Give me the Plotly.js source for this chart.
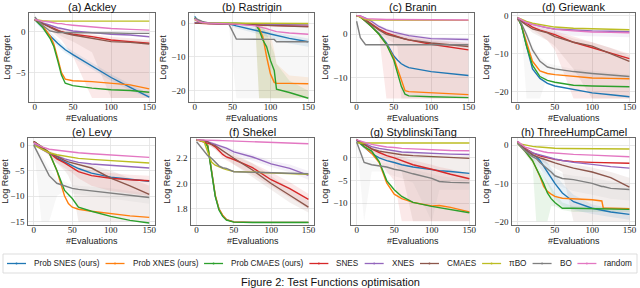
<!DOCTYPE html>
<html><head><meta charset="utf-8">
<script src="https://cdn.plot.ly/plotly-3.0.1.min.js"></script>
<style>html,body{margin:0;padding:0;background:#fff}#chart{width:640px;height:288px}</style>
</head><body><div id="chart"></div>
<script>
// ---------- names, colours, ticks ----------
const SERIES_NAMES = ['Prob SNES (ours)','Prob XNES (ours)','Prob CMAES (ours)','SNES','XNES','CMAES','\u03C0BO','BO','random'];
const SERIES_COLORS = ['#1f77b4','#ff7f0e','#2ca02c','#d62728','#9467bd','#8c564b','#bcbd22','#7f7f7f','#e377c2'];
const PANEL_TITLES = ['(a) Ackley','(b) Rastrigin','(c) Branin','(d) Griewank','(e) Levy','(f) Shekel','(g) StyblinskiTang','(h) ThreeHumpCamel'];
const X_TICKS = [0,50,100,150];
const Y_TICKS = [[0,-5],[0,-10,-20],[0,-10],[0,-10,-20],[0,-5,-10,-15],[1.8,2.0,2.2],[0,-5,-10],[0,-10,-20]];
const X_TITLE = '#Evaluations';
const Y_TITLE = 'Log Regret';
const CAPTION = 'Figure 2: Test Functions optimisation';

// ---------- (a) Ackley ----------
const ACKLEY_X = [0,10,20,25,30,35,40,50,75,100,125,150];
const ACKLEY_Y = [
  [1.5,0.6,-0.5,-1.0,-1.4,-1.8,-2.2,-2.8,-4.2,-5.6,-6.8,-8.0],
  [1.5,0.8,-0.5,-1.5,-3.2,-5.0,-5.8,-6.0,-6.1,-6.3,-6.5,-7.0],
  [1.5,0.6,-0.8,-1.8,-3.5,-5.3,-6.3,-6.6,-6.9,-7.1,-7.2,-7.4],
  [1.5,1.0,0.6,0.4,0.2,0.0,-0.1,-0.3,-0.6,-1.0,-1.2,-1.4],
  [1.5,1.1,0.8,0.6,0.5,0.4,0.3,0.1,-0.1,-0.3,-0.4,-0.6],
  [1.5,1.0,0.5,0.3,0.1,0.0,-0.2,-0.4,-0.8,-1.2,-1.3,-1.5],
  [1.5,1.35,1.3,1.3,1.3,1.3,1.3,1.3,1.3,1.3,1.3,1.3],
  [1.8,0.8,0.1,0.0,-0.1,-0.1,-0.1,-0.1,-0.1,-0.15,-0.2,-0.2],
  [1.5,1.3,1.2,1.1,1.0,1.0,0.9,0.8,0.6,0.4,0.3,0.2]
];
const ACKLEY_BANDS = [
  [3,[1.5,0.8,0.2,-0.2,-0.6,-1.0,-1.6,-3.0,-8.1,-8.1,-8.1,-8.1],[1.6,1.2,0.9,0.7,0.5,0.3,0.2,0.0,-0.3,-0.6,-0.8,-1.0]],
  [5,[1.5,0.8,0.2,-0.1,-0.3,-0.5,-0.8,-1.2,-2.5,-8.1,-8.1,-8.1],[1.6,1.2,0.8,0.6,0.4,0.3,0.1,-0.1,-0.5,-0.9,-1.0,-1.1]],
  [0,[1.3,0.3,-0.8,-1.3,-1.8,-2.2,-2.6,-3.2,-4.6,-6.0,-7.2,-8.1],[1.7,0.9,0.0,-0.5,-1.0,-1.4,-1.8,-2.4,-3.8,-5.2,-6.4,-7.6]]
];

// ---------- (b) Rastrigin ----------
const RASTRIGIN_X = [0,5,10,20,45,55,80,85,90,95,100,105,108,125,150];
const RASTRIGIN_Y = [
  [2.0,0.5,0,0,-0.2,-0.8,-2.0,-2.3,-2.6,-2.9,-3.2,-3.5,-3.7,-4.5,-5.5],
  [1.5,0.3,0,0,0,0,-0.2,-1.5,-4,-10,-15,-17.5,-17.8,-17.8,-17.9],
  [1.5,0.3,0,0,0,0,-0.3,-2,-5,-7,-11,-14,-19.5,-20.5,-22.2],
  [0,0,-0.1,-0.2,-0.3,-0.3,-0.5,-0.5,-0.6,-0.6,-0.7,-0.7,-0.7,-0.8,-0.9],
  [0.2,0,0,-0.1,-0.1,-0.2,-0.3,-0.3,-0.3,-0.4,-0.4,-0.4,-0.4,-0.5,-0.5],
  [0,0,0,-0.1,-0.2,-0.3,-0.5,-0.6,-0.6,-0.7,-0.8,-0.8,-0.9,-1.0,-1.1],
  [1.0,0.5,0.2,0,0,0,0,0,0,0,0,0,0,0,-0.1],
  [1.5,1.0,0.5,0,-0.2,-4.7,-4.7,-4.7,-4.7,-4.7,-4.7,-4.8,-5.5,-5.5,-5.5],
  [1.2,0.5,0.2,0,-0.2,-0.3,-0.8,-1.0,-1.3,-1.6,-2.0,-2.3,-2.5,-2.9,-3.3]
];
const RASTRIGIN_BANDS = [
  [7,[1.5,1.0,0.5,0,-0.5,-22.2,-22.2,-22.2,-22.2,-22.2,-22.2,-22.2,-22.2,-22.2,-22.2],[1.5,1.0,0.5,0,0,-0.2,-0.2,-0.2,-0.2,-0.2,-0.3,-0.3,-0.3,-0.3,-0.3]],
  [1,[1.5,0.3,0,0,0,0,-0.5,-22.2,-22.2,-22.2,-22.2,-22.2,-22.2,-22.2,-22.2],[1.5,0.3,0,0,0,0,0,0,0,-1,-3,-8,-12,-15.5,-16]],
  [2,[1.5,0.3,0,0,0,0,-1,-22.2,-22.2,-22.2,-22.2,-22.2,-22.2,-22.2,-22.2],[1.5,0.3,0,0,0,0,0,0,-1,-3,-6,-9,-12,-17,-20]],
  [0,[2,0.5,0,0,-0.5,-1.5,-3,-3.3,-3.6,-4,-4.3,-4.7,-5,-6,-7],[2,0.5,0,0,0,-0.3,-1.2,-1.5,-1.8,-2,-2.3,-2.6,-2.8,-3.5,-4.5]]
];

// ---------- (c) Branin ----------
const BRANIN_X = [0,5,12,20,30,40,50,55,60,65,70,100,150];
const BRANIN_Y = [
  [4.3,4.0,3.0,1.8,0.2,-2.0,-5.0,-6.0,-6.8,-7.3,-7.7,-8.6,-9.5],
  [4.3,4.0,3.0,1.8,0.0,-2.3,-5.5,-8.0,-11.0,-13.0,-13.2,-13.5,-13.9],
  [4.3,4.0,3.0,1.8,0.0,-2.3,-6.0,-9.0,-12.0,-13.8,-14.2,-14.4,-14.6],
  [4.3,4.1,3.3,2.4,1.2,0.3,-0.3,-0.6,-0.9,-1.1,-1.3,-2.3,-3.6],
  [4.3,4.2,3.7,3.0,1.8,1.0,0.5,0.3,0.1,-0.1,-0.3,-1.0,-1.2],
  [4.3,4.1,3.2,2.2,1.0,0.0,-0.5,-0.7,-0.9,-1.1,-1.3,-2.0,-2.8],
  [4.3,4.0,3.4,3.3,3.3,3.3,3.3,3.3,3.3,3.3,3.3,3.3,3.2],
  [3.0,-0.8,-2.4,-2.4,-2.4,-2.4,-2.4,-2.4,-2.4,-2.4,-2.4,-2.4,-2.4],
  [4.3,4.2,3.6,3.5,3.4,3.4,3.4,3.4,3.3,3.3,3.3,3.3,3.3]
];
const BRANIN_BANDS = [
  [3,[4.3,4.0,3.0,2.0,0.0,-14.8,-14.8,-14.8,-14.8,-14.8,-14.8,-14.8,-14.8],[4.4,4.2,3.6,2.8,1.8,1.0,0.5,0.2,0.0,-0.2,-0.4,-1.2,-2.0]],
  [5,[4.3,4.0,3.0,2.0,0.5,-1.0,-2.0,-3.0,-14.8,-14.8,-14.8,-14.8,-14.8],[4.4,4.2,3.5,2.6,1.5,0.6,0.0,-0.2,-0.4,-0.6,-0.8,-1.5,-2.0]],
  [4,[4.3,4.0,3.2,2.3,1.0,0.0,-0.6,-0.8,-1.0,-1.2,-1.4,-2.0,-2.2],[4.4,4.3,3.9,3.3,2.2,1.4,0.9,0.7,0.5,0.3,0.1,-0.6,-0.8]]
];

// ---------- (d) Griewank ----------
const GRIEWANK_X = [0,5,12,20,30,40,50,75,100,125,150];
const GRIEWANK_Y = [
  [-0.5,-2.5,-8.0,-14.0,-16.5,-17.8,-18.5,-19.5,-20.3,-20.8,-21.3],
  [-0.5,-2.5,-7.0,-12.0,-14.5,-15.2,-15.5,-16.0,-16.4,-16.5,-16.6],
  [-0.5,-2.5,-8.0,-13.0,-16.0,-17.0,-17.5,-18.3,-18.5,-18.6,-18.7],
  [-1.0,-1.3,-2.0,-3.0,-3.8,-4.3,-5.0,-7.0,-8.5,-10.0,-11.3],
  [-0.5,-1.0,-1.8,-2.3,-2.8,-3.2,-3.5,-3.8,-4.0,-4.1,-4.2],
  [-1.0,-1.5,-2.5,-3.5,-4.0,-4.5,-5.5,-7.0,-8.0,-10.0,-12.0],
  [-0.5,-1.0,-1.5,-2.0,-2.4,-2.7,-3.0,-3.3,-3.5,-3.6,-3.7],
  [-0.5,-2.0,-5.0,-9.0,-12.0,-13.5,-14.0,-14.7,-15.2,-15.6,-16.0],
  [-0.5,-1.0,-1.8,-2.3,-2.8,-3.2,-3.6,-4.0,-4.3,-4.4,-4.5]
];
const GRIEWANK_BANDS = [
  [3,[-1.0,-1.6,-2.5,-3.8,-5.0,-6.5,-9.0,-21.8,-21.8,-21.8,-21.8],[-0.8,-1.0,-1.6,-2.4,-3.0,-3.5,-4.0,-5.5,-7.0,-8.5,-10.0]],
  [5,[-1.0,-1.8,-3.0,-4.5,-5.5,-6.5,-8.0,-14.0,-21.8,-21.8,-21.8],[-0.8,-1.2,-2.0,-3.0,-3.5,-4.0,-4.5,-6.0,-7.0,-8.5,-10.5]],
  [7,[-0.5,-3.0,-21.8,-21.8,-21.8,-16.0,-15.5,-16.0,-16.5,-16.8,-17.0],[-0.5,-1.5,-4.0,-8.0,-11.0,-12.5,-13.0,-14.0,-14.5,-15.0,-15.5]],
  [4,[-0.5,-1.2,-2.2,-3.0,-3.6,-4.2,-4.8,-5.3,-5.5,-5.6,-5.7],[-0.5,-0.8,-1.5,-2.0,-2.4,-2.7,-3.0,-3.3,-3.5,-3.6,-3.7]]
];

// ---------- (e) Levy ----------
const LEVY_X = [0,10,20,30,40,45,50,58,75,100,125,150];
const LEVY_Y = [
  [0.7,-0.5,-1.5,-2.5,-3.3,-3.7,-4.0,-4.6,-5.5,-6.3,-6.7,-7.1],
  [0.7,-0.3,-1.5,-5.0,-10.0,-11.5,-12.2,-12.6,-13.0,-13.5,-13.9,-14.2],
  [0.7,-0.3,-1.5,-5.0,-8.9,-9.8,-10.5,-12.2,-13.0,-14.0,-14.8,-15.3],
  [0.7,-0.5,-1.5,-2.7,-3.5,-4.0,-4.5,-5.2,-6.0,-6.5,-6.8,-7.0],
  [0.3,-0.8,-1.6,-2.2,-2.7,-2.9,-3.1,-3.4,-3.7,-4.0,-4.3,-4.5],
  [0.7,-0.5,-1.5,-2.3,-3.0,-3.3,-3.5,-3.9,-4.5,-6.5,-8.0,-9.7],
  [0.0,-0.8,-1.5,-1.9,-2.2,-2.3,-2.5,-2.6,-2.8,-3.0,-3.3,-3.5],
  [0.0,-3.0,-6.0,-7.5,-8.0,-8.3,-8.5,-8.7,-9.0,-9.5,-10.0,-10.3],
  [0.5,-0.3,-0.8,-1.0,-1.2,-1.3,-1.4,-1.5,-1.7,-1.9,-2.1,-2.4]
];
const LEVY_BANDS = [
  [5,[0.7,-0.7,-2.0,-3.5,-5.0,-6.0,-8.0,-15.0,-15.0,-15.0,-15.0,-15.0],[0.8,-0.2,-1.0,-1.8,-2.5,-2.8,-3.0,-3.3,-3.8,-5.0,-6.5,-8.0]],
  [3,[0.7,-0.7,-2.0,-3.5,-4.5,-5.0,-5.5,-6.5,-8.0,-9.0,-9.5,-10.0],[0.8,-0.3,-1.2,-2.2,-3.0,-3.4,-3.8,-4.4,-5.0,-5.5,-5.8,-6.0]],
  [7,[0.0,-15.0,-15.0,-10.0,-9.0,-9.0,-9.5,-9.8,-10.0,-10.5,-11.0,-11.5],[0.0,-2.0,-4.5,-6.5,-7.2,-7.5,-7.8,-8.0,-8.2,-8.5,-9.0,-9.5]]
];

// ---------- (f) Shekel ----------
const SHEKEL_X = [0,10,15,20,25,30,35,40,50,75,100,125,150];
const SHEKEL_Y = [
  [2.345,2.335,2.30,2.10,1.90,1.80,1.745,1.715,1.697,1.693,1.693,1.693,1.693],
  [2.345,2.335,2.30,2.11,1.91,1.80,1.750,1.715,1.697,1.693,1.693,1.693,1.693],
  [2.345,2.335,2.29,2.09,1.90,1.79,1.740,1.710,1.695,1.692,1.692,1.692,1.692],
  [2.345,2.33,2.32,2.31,2.29,2.26,2.23,2.21,2.19,2.125,2.03,1.96,1.875],
  [2.345,2.34,2.33,2.32,2.31,2.30,2.29,2.28,2.25,2.21,2.155,2.12,2.065],
  [2.345,2.34,2.33,2.31,2.30,2.28,2.26,2.24,2.20,2.107,2.00,1.907,1.813],
  [2.345,2.33,2.25,2.17,2.145,2.13,2.12,2.11,2.095,2.09,2.085,2.08,2.072],
  [2.33,2.253,2.22,2.20,2.17,2.14,2.125,2.12,2.093,2.09,2.088,2.083,2.077],
  [2.345,2.345,2.344,2.343,2.342,2.340,2.339,2.338,2.335,2.330,2.325,2.320,2.315]
];
const SHEKEL_BANDS = [
  [3,[2.345,2.325,2.31,2.29,2.27,2.24,2.20,2.18,2.15,2.07,1.98,1.89,1.80],[2.345,2.335,2.33,2.32,2.31,2.29,2.26,2.24,2.22,2.16,2.09,2.01,1.92]],
  [5,[2.345,2.33,2.31,2.29,2.27,2.25,2.23,2.20,2.15,2.05,1.95,1.85,1.77],[2.345,2.345,2.34,2.33,2.32,2.30,2.29,2.27,2.24,2.16,2.06,1.96,1.86]],
  [4,[2.345,2.335,2.32,2.31,2.30,2.285,2.275,2.26,2.23,2.18,2.13,2.09,2.03],[2.345,2.345,2.34,2.33,2.32,2.31,2.30,2.29,2.27,2.23,2.18,2.15,2.10]]
];

// ---------- (g) StyblinskiTang ----------
const STYB_X = [0,10,20,30,40,50,60,75,100,110,125,150];
const STYB_Y = [
  [3.8,2.5,1.0,0.0,-0.6,-1.0,-1.5,-2.0,-2.6,-2.8,-3.0,-3.4],
  [4.0,2.5,1.0,-1.0,-5.5,-8.0,-9.0,-9.8,-10.6,-10.5,-10.9,-11.9],
  [4.0,2.5,1.5,-0.8,-5.0,-7.0,-8.5,-9.8,-10.7,-11.0,-11.5,-12.1],
  [4.0,3.0,2.0,1.2,0.5,0.0,-0.6,-1.5,-2.5,-3.0,-3.6,-4.6],
  [4.0,3.2,2.5,2.1,1.8,1.5,1.3,1.2,1.0,0.9,0.85,0.75],
  [4.0,3.0,2.0,1.5,1.2,1.0,0.7,0.5,0.3,0.2,0.1,-0.1],
  [3.3,3.3,3.3,3.3,3.3,3.3,3.3,3.3,3.3,3.3,3.3,3.3],
  [3.5,-1.0,-1.5,-1.8,-2.0,-2.5,-2.8,-3.5,-4.5,-5.2,-5.4,-5.5],
  [4.0,3.5,3.0,2.7,2.4,2.3,2.1,2.0,1.8,1.7,1.65,1.6]
];
const STYB_BANDS = [
  [3,[4.0,2.5,1.0,-0.5,-3.0,-5.0,-14.0,-14.0,-14.0,-14.0,-14.0,-14.0],[4.2,3.4,2.6,1.8,1.2,0.7,0.2,-0.5,-1.5,-2.0,-2.5,-3.5]],
  [5,[4.0,2.8,1.5,0.5,-0.5,-1.5,-3.0,-14.0,-14.0,-14.0,-14.0,-14.0],[4.2,3.3,2.5,2.0,1.7,1.5,1.2,1.0,0.8,0.7,0.6,0.4]],
  [7,[3.5,-14.0,-3.0,-3.0,-3.5,-4.0,-4.5,-5.5,-14.0,-7.0,-7.0,-7.0],[3.5,0.0,-0.5,-1.0,-1.2,-1.5,-1.8,-2.5,-3.5,-4.0,-4.3,-4.5]]
];

// ---------- (h) ThreeHumpCamel ----------
const THC_X = [0,10,20,25,30,35,40,45,50,60,75,100,113,115,125,150];
const THC_Y = [
  [1.0,-1.0,-2.5,-3.0,-4.0,-5.5,-7.0,-8.5,-10.0,-12.5,-14.8,-16.5,-17.0,-17.2,-17.5,-18.1],
  [0.5,-1.5,-4.0,-6.0,-8.2,-10.8,-12.1,-12.8,-13.4,-13.9,-14.0,-14.3,-14.6,-16.5,-16.5,-16.6],
  [0.5,-1.5,-4.0,-6.0,-8.0,-10.0,-12.5,-14.0,-15.0,-16.5,-16.5,-16.6,-16.7,-16.7,-16.8,-16.8],
  [1.0,-0.8,-2.0,-2.5,-2.8,-3.0,-3.3,-3.5,-3.7,-4.0,-4.3,-4.5,-4.6,-4.6,-4.6,-4.7],
  [1.0,-1.0,-2.0,-2.3,-2.6,-2.9,-3.2,-3.4,-3.6,-4.0,-4.5,-5.0,-5.4,-5.4,-5.6,-6.0],
  [1.0,-1.0,-2.5,-3.0,-3.3,-3.6,-4.0,-4.3,-4.6,-5.2,-6.0,-7.0,-7.8,-7.9,-8.5,-11.0],
  [0.5,0.0,-0.3,-0.4,-0.5,-0.6,-0.7,-0.75,-0.8,-0.85,-0.9,-0.95,-1.0,-1.0,-1.0,-1.0],
  [0.5,-1.5,-3.0,-3.5,-4.5,-5.3,-6.0,-7.0,-8.0,-8.7,-9.0,-10.0,-10.8,-10.8,-11.3,-11.6],
  [1.0,-0.5,-1.0,-1.3,-1.5,-1.7,-1.9,-2.0,-2.1,-2.2,-2.4,-2.6,-2.7,-2.7,-2.8,-3.0]
];
const THC_BANDS = [
  [5,[1.0,-1.5,-3.0,-3.6,-4.0,-4.4,-5.0,-5.5,-6.0,-7.0,-19.9,-19.9,-19.9,-19.9,-19.9,-19.9],[1.1,-0.5,-2.0,-2.5,-2.8,-3.0,-3.3,-3.6,-3.9,-4.4,-5.0,-5.8,-6.5,-6.5,-7.0,-8.5]],
  [2,[0.5,-2.0,-5.0,-19.9,-19.9,-19.9,-19.9,-16.0,-16.0,-17.0,-17.5,-17.5,-17.5,-17.5,-17.5,-17.5],[0.5,-1.0,-3.0,-4.5,-6.5,-8.0,-9.5,-11.0,-12.5,-15.0,-16.0,-16.2,-16.3,-16.3,-16.4,-16.4]],
  [0,[1.0,-1.5,-3.5,-4.5,-6.0,-8.0,-10.0,-12.0,-14.0,-16.0,-17.0,-18.0,-18.5,-18.5,-18.8,-19.5],[1.0,-0.5,-1.5,-2.0,-2.7,-3.5,-4.5,-6.0,-7.5,-10.0,-13.0,-15.5,-16.0,-16.2,-16.5,-17.0]],
  [7,[0.5,-2.5,-4.5,-5.0,-6.0,-7.0,-8.0,-9.0,-10.0,-11.0,-12.0,-13.0,-13.5,-13.5,-14.0,-14.5],[0.5,-1.0,-2.0,-2.5,-3.0,-4.0,-4.5,-5.5,-6.5,-7.5,-8.0,-8.5,-9.0,-9.0,-9.5,-10.0]]
];

// ---------- layout (pixel boxes of the plot areas, y ranges) ----------
const W = 640, H = 288;
const PANELS = [
  {x: ACKLEY_X,    y: ACKLEY_Y,    bands: ACKLEY_BANDS,    box: [29,13,155,102],  yr: [-8.6,2.3]},
  {x: RASTRIGIN_X, y: RASTRIGIN_Y, bands: RASTRIGIN_BANDS, box: [189,13,314,102], yr: [-23.3,3.0]},
  {x: BRANIN_X,    y: BRANIN_Y,    bands: BRANIN_BANDS,    box: [351,13,474,102], yr: [-15.6,4.9]},
  {x: GRIEWANK_X,  y: GRIEWANK_Y,  bands: GRIEWANK_BANDS,  box: [512,13,635,102], yr: [-22.7,0.7]},
  {x: LEVY_X,      y: LEVY_Y,      bands: LEVY_BANDS,      box: [28,138,155,225], yr: [-15.7,1.4]},
  {x: SHEKEL_X,    y: SHEKEL_Y,    bands: SHEKEL_BANDS,    box: [191,138,314,225],yr: [1.672,2.36]},
  {x: STYB_X,      y: STYB_Y,      bands: STYB_BANDS,      box: [351,138,475,225],yr: [-14.8,4.4]},
  {x: THC_X,       y: THC_Y,       bands: THC_BANDS,       box: [512,138,635,225],yr: [-20.9,1.9]}
];

function rgba(hex, a) {
  const n = parseInt(hex.slice(1), 16);
  return `rgba(${(n>>16)&255},${(n>>8)&255},${n&255},${a})`;
}
const px = v => v / W;
const py = v => 1 - v / H;

const SANS = '"Liberation Sans", Arial, sans-serif';
const SERIF = '"Liberation Serif", "Times New Roman", serif';

const traces = [];
const layout = {
  width: W, height: H,
  margin: {l: 0, r: 0, t: 0, b: 0},
  paper_bgcolor: '#fff', plot_bgcolor: '#fff',
  showlegend: false,
  font: {family: SANS, color: '#222'},
  annotations: [], shapes: []
};

PANELS.forEach((P, p) => {
  const s = p === 0 ? '' : String(p + 1);
  const xa = 'x' + s, ya = 'y' + s;
  // bands (spread over runs)
  P.bands.forEach(b => {
    const [si, lo, hi] = b;
    traces.push({
      type: 'scatter', mode: 'lines', xaxis: xa, yaxis: ya,
      x: P.x.concat(P.x.slice().reverse()),
      y: hi.concat(lo.slice().reverse()),
      fill: 'toself', fillcolor: rgba(SERIES_COLORS[si], si === 7 ? 0.06 : 0.1),
      line: {width: 0}, hoverinfo: 'skip', showlegend: false
    });
  });
  // median lines
  P.y.forEach((ys, si) => {
    traces.push({
      type: 'scatter', mode: 'lines', xaxis: xa, yaxis: ya,
      x: P.x, y: ys, name: SERIES_NAMES[si],
      line: {color: SERIES_COLORS[si], width: 1.4},
      showlegend: false
    });
  });
  const [x0, y0, x1, y1] = P.box;
  const common = {
    showline: true, mirror: true, linecolor: '#444', linewidth: 0.8,
    showgrid: true, gridcolor: '#e2e2e2', gridwidth: 0.8,
    zeroline: false, ticks: '', ticklen: 0,
    tickfont: {family: SERIF, size: 9, color: '#222'}, fixedrange: true
  };
  layout['xaxis' + s] = Object.assign({}, common, {
    domain: [px(x0), px(x1)], anchor: ya, range: [-7.5, 157.5],
    tickmode: 'array', tickvals: X_TICKS, ticklabelstandoff: -4
  });
  layout['yaxis' + s] = Object.assign({}, common, {
    domain: [py(y1), py(y0)], anchor: xa, range: P.yr, ticklabelstandoff: 1,
    tickmode: 'array', tickvals: Y_TICKS[p], tickformat: p === 5 ? '.1f' : '',
    title: {text: Y_TITLE, font: {family: SANS, size: 9, color: '#222'}, standoff: 3}
  });
  // panel title
  layout.annotations.push({
    xref: 'paper', yref: 'paper', x: px((x0 + x1) / 2), y: py(y0 - 6),
    xanchor: 'center', yanchor: 'middle', showarrow: false,
    text: PANEL_TITLES[p], font: {family: SANS, size: 11, color: '#111'}
  });
  // x-axis title
  layout.annotations.push({
    xref: 'paper', yref: 'paper', x: px((x0 + x1) / 2), y: py(y1 + 16),
    xanchor: 'center', yanchor: 'middle', showarrow: false,
    text: X_TITLE, font: {family: SANS, size: 9, color: '#222'}
  });
});

// ---------- legend (one row, framed) ----------
const LEG_FONT = 8.2;
const ctx = document.createElement('canvas').getContext('2d');
ctx.font = `${LEG_FONT}px "Liberation Sans"`;
layout.shapes.push({type: 'rect', xref: 'paper', yref: 'paper',
  x0: px(3), x1: px(637), y0: py(273), y1: py(254),
  line: {color: '#d4d4d4', width: 0.8}, fillcolor: 'rgba(255,255,255,0)'});
let lx = 7;
const ly = 263.5;
SERIES_NAMES.forEach((name, i) => {
  layout.shapes.push({type: 'line', xref: 'paper', yref: 'paper',
    x0: px(lx), x1: px(lx + 19), y0: py(ly), y1: py(ly),
    line: {color: SERIES_COLORS[i], width: 1.3}});
  layout.shapes.push({type: 'circle', xref: 'paper', yref: 'paper',
    x0: px(lx + 8.5), x1: px(lx + 10.5), y0: py(ly + 1), y1: py(ly - 1),
    line: {width: 0}, fillcolor: SERIES_COLORS[i]});
  layout.annotations.push({xref: 'paper', yref: 'paper', x: px(lx + 25), y: py(ly),
    xanchor: 'left', yanchor: 'middle', showarrow: false, text: name,
    font: {family: SANS, size: LEG_FONT, color: '#222'}});
  lx += 25 + ctx.measureText(name).width + 8;
});

// ---------- caption ----------
layout.annotations.push({xref: 'paper', yref: 'paper', x: px(330), y: py(282),
  xanchor: 'center', yanchor: 'middle', showarrow: false, text: CAPTION,
  font: {family: SANS, size: 11, color: '#111'}});

Plotly.newPlot('chart', traces, layout, {staticPlot: true, displayModeBar: false});
</script>
</body></html>
